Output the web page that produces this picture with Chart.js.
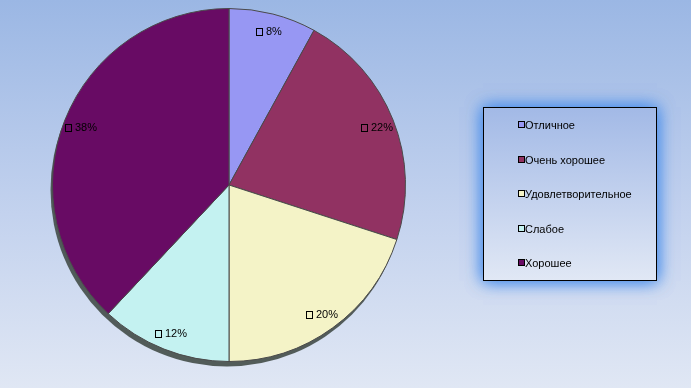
<!DOCTYPE html>
<html>
<head>
<meta charset="utf-8">
<script src="https://cdn.jsdelivr.net/npm/chart.js@4.4.0/dist/chart.umd.min.js"></script>
<style>
    html, body { margin: 0; padding: 0; }
    body { width: 691px; height: 388px; overflow: hidden;
        background: linear-gradient(to bottom, #9bb7e4 0%, #c3d2ee 55%, #e0e7f4 100%); }
    #wrap { position: relative; width: 691px; height: 388px; }
</style>
</head>
<body>
<div id="wrap"><canvas id="pie" width="691" height="388"></canvas></div>
<script>
// --- DATA ---
const categories = ['Отличное', 'Очень хорошее', 'Удовлетворительное', 'Слабое', 'Хорошее'];
const shares = [8, 22, 20, 12, 38];
const sliceColors = ['#9797f3', '#913262', '#f4f3c7', '#c4f2f1', '#680b64'];

const FONT = '11px "Liberation Sans", Arial, sans-serif';

// 3D-ish dark edge under the pie
const pieShadow = {
    id: 'pieShadow',
    beforeDatasetsDraw(chart) {
        const arc = chart.getDatasetMeta(0).data[0];
        if (!arc) return;
        const { x, y, outerRadius } = arc.getProps(['x', 'y', 'outerRadius'], true);
        const ctx = chart.ctx;
        ctx.save();
        ctx.beginPath();
        ctx.arc(x - 2, y + 5, outerRadius, 0, Math.PI * 2);
        ctx.fillStyle = 'rgba(66,76,72,0.9)';
        ctx.fill();
        ctx.restore();
    }
};

// percentage labels with the small (empty) key square
const sliceLabels = {
    id: 'sliceLabels',
    afterDatasetsDraw(chart) {
        const ctx = chart.ctx;
        const meta = chart.getDatasetMeta(0);
        ctx.save();
        ctx.font = FONT;
        ctx.textBaseline = 'middle';
        meta.data.forEach((arc, i) => {
            const p = arc.getProps(['x', 'y', 'startAngle', 'endAngle', 'outerRadius'], true);
            const mid = (p.startAngle + p.endAngle) / 2;
            const r = p.outerRadius * 0.9;
            const cx = p.x + Math.cos(mid) * r;
            const cy = p.y + Math.sin(mid) * r;
            const txt = shares[i] + '%';
            const w = 6 + 4 + ctx.measureText(txt).width;
            const left = Math.round(cx - w / 2);
            const top = Math.round(cy - 3);
            ctx.strokeStyle = '#000';
            ctx.lineWidth = 1;
            ctx.strokeRect(left + 0.5, top + 0.5, 6, 7);
            ctx.fillStyle = '#000';
            ctx.textAlign = 'left';
            ctx.fillText(txt, left + 10, cy + 1);
        });
        ctx.restore();
    }
};

// legend box on the right with a blue glow
const boxLegend = {
    id: 'boxLegend',
    afterDraw(chart) {
        const ctx = chart.ctx;
        const bx = 483, by = 107, bw = 174, bh = 174;
        ctx.save();
        ctx.shadowColor = 'rgba(70,140,235,0.9)';
        ctx.shadowBlur = 16;
        const g = ctx.createLinearGradient(0, by, 0, by + bh);
        g.addColorStop(0, '#a2b9e6');
        g.addColorStop(1, '#e1e8f5');
        ctx.fillStyle = g;
        ctx.fillRect(bx, by, bw, bh);
        ctx.fillRect(bx, by, bw, bh);
        ctx.shadowBlur = 0;
        ctx.shadowColor = 'transparent';
        ctx.strokeStyle = '#000';
        ctx.lineWidth = 1;
        ctx.strokeRect(bx + 0.5, by + 0.5, bw - 1, bh - 1);

        ctx.font = FONT;
        ctx.textBaseline = 'middle';
        ctx.textAlign = 'left';
        categories.forEach((name, i) => {
            const y = Math.round(125 + i * 34.6);
            ctx.fillStyle = sliceColors[i];
            ctx.fillRect(518, y - 3, 6, 6);
            ctx.strokeStyle = '#000';
            ctx.strokeRect(518.5, y - 3.5, 6, 6);
            ctx.fillStyle = '#000';
            ctx.fillText(name, 525, y + 1);
        });
        ctx.restore();
    }
};

new Chart(document.getElementById('pie'), {
    type: 'pie',
    data: {
        labels: categories,
        datasets: [{
            data: shares,
            backgroundColor: sliceColors,
            borderColor: '#4a4a4a',
            borderWidth: 1
        }]
    },
    options: {
        responsive: false,
        animation: false,
        layout: { padding: { left: 52, right: 285, top: 8, bottom: 26 } },
        plugins: { legend: { display: false }, tooltip: { enabled: false } }
    },
    plugins: [pieShadow, sliceLabels, boxLegend]
});
</script>
</body>
</html>
